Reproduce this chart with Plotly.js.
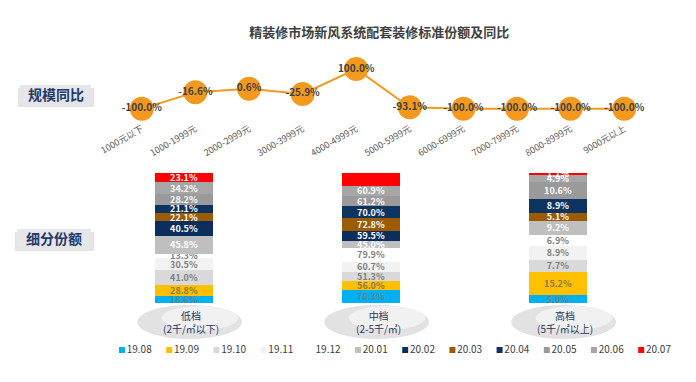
<!DOCTYPE html>
<html>
<head>
<meta charset="utf-8">
<script src="https://cdn.plot.ly/plotly-3.0.1.min.js"></script>
<style>html,body{margin:0;padding:0;background:#fff;}#chart{width:696px;height:382px;}</style>
</head>
<body>
<div id="chart"></div>
<script>
// ---- data ----
const priceBands = ['1000元以下','1000-1999元','2000-2999元','3000-3999元','4000-4999元','5000-5999元','6000-6999元','7000-7999元','8000-8999元','9000元以上'];
const yoyChange = [-100.0, -16.6, 0.6, -25.9, 100.0, -93.1, -100.0, -100.0, -100.0, -100.0];

const tiers = ['低档', '中档', '高档'];
const tierNotes = ['(2千/㎡以下)', '(2-5千/㎡)', '(5千/㎡以上)'];
const months = ['19.08','19.09','19.10','19.11','19.12','20.01','20.02','20.03','20.04','20.05','20.06','20.07'];
const lowShare  = [18.6, 28.8, 41.0, 30.5, 13.3, 45.8, 40.5, 22.1, 21.1, 28.2, 34.2, 23.1];
const midShare  = [76.3, 56.0, 51.3, 60.7, 79.9, 45.0, 59.5, 72.8, 70.0, 61.2, 60.9, 75.8];
const highShare = [5.0, 15.2, 7.7, 8.9, 6.9, 9.2, 0.0, 5.1, 8.9, 10.6, 4.9, 1.1];

// ---- styles ----
const monthColors = ['#00b0f0','#ffc000','#d9d9d9','#f2f2f2','#ffffff','#bfbfbf','#0b2f5c','#9c5b00','#0d3461','#9a9a9a','#a6a6a6','#ff0000'];
const monthTextColors = ['#5f8496','#8a7a40','#7f7f7f','#7f7f7f','#7f7f7f','#ffffff','#ffffff','#ffffff','#ffffff','#ffffff','#ffffff','#ffffff'];
const orange = '#f39a1e';
const cjk = '"Noto Sans CJK SC", "Noto Sans", sans-serif';

const traces = [];
traces.push({
  type: 'scatter', mode: 'lines+markers+text',
  x: priceBands, y: yoyChange,
  text: yoyChange.map(v => v.toFixed(1) + '%'),
  textposition: 'middle center',
  textfont: {family: cjk, size: 10, color: '#404040', weight: 'bold'},
  line: {color: orange, width: 2},
  marker: {size: 24, color: orange},
  xaxis: 'x', yaxis: 'y', showlegend: false, hoverinfo: 'skip', cliponaxis: false
});

months.forEach((m, i) => {
  const vals = [lowShare[i], midShare[i], highShare[i]];
  traces.push({
    type: 'bar', name: m, x: tiers, y: vals,
    marker: {color: monthColors[i], line: {width: 0}},
    text: vals.map(v => v.toFixed(1) + '%'),
    textposition: 'inside', insidetextanchor: 'middle', textangle: 0,
    textfont: {family: cjk, size: 9, color: monthTextColors[i], weight: 'bold'},
    xaxis: 'x2', yaxis: 'y2', showlegend: false, hoverinfo: 'skip', cliponaxis: false
  });
});
// legend row (series keys)
traces.push({
  type: 'scatter', mode: 'markers+text', x: months, y: months.map(() => 0),
  text: months, textposition: 'middle right',
  textfont: {family: cjk, size: 10, color: '#404040'},
  marker: {symbol: 'square', size: 6, color: monthColors},
  xaxis: 'x3', yaxis: 'y3', showlegend: false, hoverinfo: 'skip', cliponaxis: false
});

const H = 382, W = 696;
const py = p => 1 - p / H;
const px = p => p / W;

const shapes = [];
const annotations = [];
// side label boxes
[['规模同比', 20, 85, 91, 102], ['细分份额', 17, 229, 91, 246]].forEach(b => {
  shapes.push({type:'rect', xref:'paper', yref:'paper', x0:px(b[1]-2), x1:px(b[3]+3), y0:py(b[4]+5), y1:py(b[2]+3),
    fillcolor:'rgba(0,0,0,0.10)', line:{width:0}, layer:'below'});
  shapes.push({type:'rect', xref:'paper', yref:'paper', x0:px(b[1]), x1:px(b[3]), y0:py(b[4]), y1:py(b[2]),
    fillcolor:'#e5e7eb', line:{width:0}, layer:'below'});
  annotations.push({xref:'paper', yref:'paper', x:px((b[1]+b[3])/2), y:py((b[2]+b[4])/2), text:b[0], showarrow:false,
    font:{family:cjk, size:14, color:'#22386a', weight:'bold'}, xanchor:'center', yanchor:'middle'});
});
// tier ellipses + labels
tiers.forEach((t, i) => {
  shapes.push({type:'circle', xref:'x2', yref:'paper', x0:i-0.25, x1:i+0.31, y0:py(339), y1:py(305),
    fillcolor:'#e2e2e2', line:{width:0}, layer:'below'});
  shapes.push({type:'circle', xref:'x2', yref:'paper', x0:i-0.12, x1:i+0.29, y0:py(330), y1:py(306),
    fillcolor:'#f1f1f1', line:{width:0}, layer:'below'});
  annotations.push({xref:'x2', yref:'paper', x:i, xshift:7, y:py(322), text:t + '<br>' + tierNotes[i], showarrow:false,
    font:{family:cjk, size:10, color:'#1f3864'}, xanchor:'center', yanchor:'middle'});
});

const layout = {
  width: W, height: H,
  margin: {l:0, r:0, t:0, b:0, autoexpand: false},
  paper_bgcolor: '#ffffff', plot_bgcolor: 'rgba(0,0,0,0)',
  title: {text: '精装修市场新风系统配套装修标准份额及同比', x: 0.545, xanchor: 'center', y: py(32), yanchor: 'middle', yref: 'paper',
    font: {family: cjk, size: 13, color: '#404040', weight: 'bold'}},
  showlegend: false,
  xaxis: {domain: [px(115), px(651)], range: [-0.5, 9.5], type: 'category', showgrid: false, zeroline: false, showline: false,
    ticks: '', tickangle: -30, tickfont: {family: cjk, size: 9, color: '#595959'}, fixedrange: true, automargin: false},
  yaxis: {domain: [py(121), py(69)], range: [-162, 100], showgrid: false, zeroline: false, showticklabels: false, fixedrange: true},
  xaxis2: {domain: [px(90.5), px(651.5)], range: [-0.5, 2.5], type: 'category', anchor: 'y2', showgrid: false, zeroline: false,
    showline: false, showticklabels: false, ticks: '', fixedrange: true},
  yaxis2: {domain: [py(303), py(173)], range: [0, 100], anchor: 'x2', showgrid: false, zeroline: false, showticklabels: false, fixedrange: true},
  xaxis3: {domain: [px(98.4), px(664.8)], range: [-0.5, 11.5], type: 'category', anchor: 'y3', showgrid: false, zeroline: false,
    showline: false, showticklabels: false, ticks: '', fixedrange: true},
  yaxis3: {domain: [py(356), py(344)], range: [-1, 1], anchor: 'x3', showgrid: false, zeroline: false, showticklabels: false, fixedrange: true},
  barmode: 'stack', barnorm: 'percent', bargap: 0.69,
  uniformtext: {mode: 'show', minsize: 9},
  shapes: shapes, annotations: annotations
};

Plotly.newPlot('chart', traces, layout, {displayModeBar: false, staticPlot: true});
</script>
</body>
</html>
